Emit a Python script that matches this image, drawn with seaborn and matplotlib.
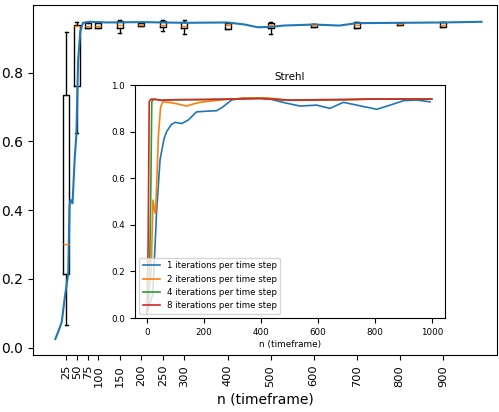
import numpy as np
import pandas as pd
import seaborn as sns
import matplotlib
matplotlib.use("Agg")
import matplotlib.pyplot as plt

# main curve (mean Strehl)
main_x = [0, 8, 15, 22, 30, 33, 35, 40, 45, 49, 53, 58, 64, 80, 120, 200, 300, 400,
          440, 470, 500, 530, 600, 660, 700, 800, 900, 990]
main_y = [0.025, 0.05, 0.075, 0.146, 0.215, 0.41, 0.43, 0.42, 0.55, 0.62, 0.836, 0.92,
          0.945, 0.948, 0.946, 0.947, 0.945, 0.946, 0.94, 0.932, 0.933, 0.937, 0.940,
          0.937, 0.944, 0.945, 0.946, 0.948]

# box statistics per timeframe
box_pos = [25, 50, 75, 100, 150, 200, 250, 300, 400, 500, 600, 700, 800, 900]
box_whislo = [0.065, 0.623, 0.930, 0.930, 0.914, 0.935, 0.920, 0.912, 0.928, 0.912, 0.932, 0.931, 0.940, 0.932]
box_q1 = [0.215, 0.760, 0.930, 0.930, 0.930, 0.935, 0.932, 0.930, 0.928, 0.930, 0.932, 0.931, 0.940, 0.932]
box_med = [0.300, 0.935, 0.937, 0.937, 0.940, 0.940, 0.940, 0.937, 0.940, 0.938, 0.940, 0.940, 0.942, 0.940]
box_q3 = [0.735, 0.940, 0.945, 0.945, 0.950, 0.945, 0.950, 0.948, 0.945, 0.945, 0.943, 0.947, 0.944, 0.947]
box_whishi = [0.918, 0.947, 0.947, 0.947, 0.952, 0.945, 0.954, 0.952, 0.945, 0.947, 0.943, 0.947, 0.944, 0.947]

# inset curves: Strehl per iteration count
it1_x = [0, 20, 28, 34, 46, 60, 69, 85, 98, 122, 145, 174, 210, 245, 267, 297, 340, 380,
         432, 480, 537, 595, 642, 689, 736, 806, 853, 900, 946, 993]
it1_y = [0.02, 0.10, 0.30, 0.46, 0.68, 0.77, 0.80, 0.83, 0.84, 0.835, 0.85, 0.885, 0.888,
         0.89, 0.907, 0.936, 0.945, 0.945, 0.94, 0.925, 0.91, 0.914, 0.90, 0.926, 0.914,
         0.896, 0.914, 0.933, 0.936, 0.928]
it2_x = [0, 15, 21, 27, 30, 35, 40, 48, 56, 80, 104, 139, 160, 186, 250, 350, 420, 500,
         600, 700, 800, 900, 999]
it2_y = [0.02, 0.20, 0.506, 0.46, 0.45, 0.60, 0.78, 0.907, 0.928, 0.925, 0.92, 0.91, 0.918,
         0.926, 0.935, 0.945, 0.945, 0.935, 0.935, 0.937, 0.94, 0.94, 0.94]
it4_x = [0, 8, 13, 17, 25, 50, 100, 200, 300, 400, 500, 600, 700, 800, 900, 999]
it4_y = [0.02, 0.10, 0.50, 0.93, 0.94, 0.935, 0.937, 0.938, 0.94, 0.943, 0.935, 0.937,
         0.938, 0.94, 0.94, 0.94]
it8_x = [0, 4, 8, 15, 50, 100, 200, 300, 400, 500, 600, 700, 800, 900, 999]
it8_y = [0.02, 0.30, 0.93, 0.94, 0.935, 0.937, 0.938, 0.94, 0.942, 0.935, 0.937, 0.938,
         0.94, 0.94, 0.94]
labels = ["1 iterations per time step", "2 iterations per time step",
          "4 iterations per time step", "8 iterations per time step"]

fig = plt.figure(figsize=(4.99, 4.12), dpi=100)
ax = fig.add_axes([0.066, 0.138, 0.930, 0.850])

stats = []
for i in range(len(box_pos)):
    stats.append(dict(whislo=box_whislo[i], q1=box_q1[i], med=box_med[i],
                      q3=box_q3[i], whishi=box_whishi[i], fliers=[]))
ax.bxp(stats, positions=box_pos, widths=14, showfliers=False, manage_ticks=False,
       boxprops=dict(color="black", linewidth=1), whiskerprops=dict(linewidth=1),
       capprops=dict(linewidth=1), medianprops=dict(color="C1", linewidth=1))
sns.lineplot(x=main_x, y=main_y, ax=ax, color="C0", linewidth=1.5)

ax.set_xlim(-52, 1026)
ax.set_ylim(-0.022, 0.997)
ax.set_xticks(box_pos)
ax.set_xticklabels([str(p) for p in box_pos], rotation=90, fontsize=8.2)
ax.tick_params(axis="y", labelsize=10)
ax.set_xlabel("n (timeframe)", fontsize=10, labelpad=4)

# inset
ins = fig.add_axes([0.2705, 0.228, 0.621, 0.5655])
df = pd.concat([
    pd.DataFrame({"n": it1_x, "strehl": it1_y, "run": labels[0]}),
    pd.DataFrame({"n": it2_x, "strehl": it2_y, "run": labels[1]}),
    pd.DataFrame({"n": it4_x, "strehl": it4_y, "run": labels[2]}),
    pd.DataFrame({"n": it8_x, "strehl": it8_y, "run": labels[3]}),
])
sns.lineplot(data=df, x="n", y="strehl", hue="run", ax=ins,
             palette=["C0", "C1", "C2", "C3"], linewidth=1.2)
ins.set_xlim(-42, 1045)
ins.set_ylim(0, 1.0)
ins.set_xticks([0, 200, 400, 600, 800, 1000])
ins.tick_params(labelsize=6.3)
ins.set_xlabel("n (timeframe)", fontsize=6.4, labelpad=2)
ins.set_ylabel("")
ins.set_title("Strehl", fontsize=7.4, pad=4)
ins.legend(loc="lower left", fontsize=6.2, title=None)

fig.savefig("out.png", dpi=100)
